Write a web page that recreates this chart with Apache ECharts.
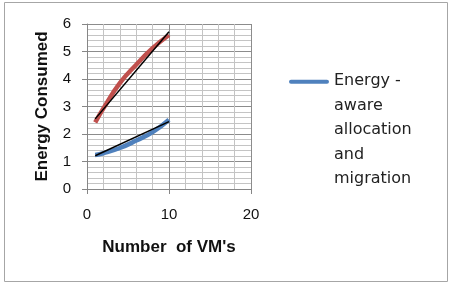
<!DOCTYPE html>
<html>
<head>
<meta charset="utf-8">
<script src="https://cdn.jsdelivr.net/npm/echarts@6/dist/echarts.min.js"></script>
<style>html,body{margin:0;padding:0;background:#fff}#c{width:453px;height:288px}</style>
</head>
<body>
<div id="c"></div>
<script>
// Data
const vmCounts = [1, 2, 4, 6, 8, 10];
const energyAware = [1.24, 1.3, 1.49, 1.76, 2.07, 2.52];
const otherPolicy = [2.42, 2.93, 3.85, 4.52, 5.12, 5.6];
const trendAwareX = [1, 10];
const trendAware = [1.21, 2.45];
const trendOtherX = [1, 10];
const trendOther = [2.55, 5.72];
const xTicks = [0, 10, 20];
const yTicks = [0, 1, 2, 3, 4, 5, 6];
const legendName = 'Energy -\naware\nallocation\nand\nmigration';

const zip = (xs, ys) => xs.map((x, i) => [x, ys[i]]);

const chart = echarts.init(document.getElementById('c'), null, {renderer: 'canvas'});
chart.setOption({
  animation: false,
  backgroundColor: '#fff',
  grid: {left: 87, right: 202, top: 24, bottom: 99, containLabel: false},
  legend: {
    data: [legendName],
    left: 289, top: 69, padding: 0,
    itemWidth: 40, itemHeight: 122,
    icon: 'path://M0,0H0.01V0.01H0Z M2,10.5H38A2,2 0 0 1 38,14.5H2A2,2 0 0 1 2,10.5Z M0,122H0.01V122.01H0Z',
    itemStyle: {color: '#4f81bd', borderWidth: 0},
    textStyle: {fontFamily: 'DejaVu Sans', fontSize: 16, color: '#222', lineHeight: 24.5},
    selectedMode: false
  },
  xAxis: {
    type: 'value', min: xTicks[0], max: xTicks[xTicks.length - 1], interval: 10,
    name: "Number  of VM's", nameLocation: 'middle', nameGap: 50,
    nameTextStyle: {fontFamily: 'Liberation Sans', fontWeight: 'bold', fontSize: 17, color: '#111'},
    axisLine: {show: true, lineStyle: {color: '#868686'}},
    axisTick: {show: true, length: 5, lineStyle: {color: '#868686'}},
    axisLabel: {fontFamily: 'Liberation Sans', fontSize: 15, color: '#111', margin: 18},
    splitLine: {show: true, lineStyle: {color: '#8c8c8c', width: 1}},
    minorTick: {show: false, splitNumber: 5},
    minorSplitLine: {show: true, lineStyle: {color: '#c4c4c4', width: 1}}
  },
  yAxis: {
    type: 'value', min: yTicks[0], max: yTicks[yTicks.length - 1], interval: 1,
    name: 'Energy Consumed', nameLocation: 'middle', nameGap: 36,
    nameTextStyle: {fontFamily: 'Liberation Sans', fontWeight: 'bold', fontSize: 17, color: '#111'},
    axisLine: {show: true, lineStyle: {color: '#868686'}},
    axisTick: {show: true, length: 5, lineStyle: {color: '#868686'}},
    axisLabel: {fontFamily: 'Liberation Sans', fontSize: 15, color: '#111', margin: 16},
    splitLine: {show: true, lineStyle: {color: '#8c8c8c', width: 1}},
    minorTick: {show: false, splitNumber: 5},
    minorSplitLine: {show: true, lineStyle: {color: '#c4c4c4', width: 1}}
  },
  graphic: [{
    type: 'rect', shape: {x: 4.5, y: 2.5, width: 443, height: 279},
    style: {fill: 'none', stroke: '#a6a6a6', lineWidth: 1}, silent: true, z: -1
  }],
  series: [
    {
      name: legendName, type: 'line', data: zip(vmCounts, energyAware), smooth: true,
      showSymbol: false, symbol: 'none',
      lineStyle: {color: '#4f81bd', width: 4.5}, itemStyle: {color: '#4f81bd'}, z: 2
    },
    {
      name: 'Series 2', type: 'line', data: zip(vmCounts, otherPolicy), smooth: true,
      showSymbol: false, symbol: 'none',
      lineStyle: {color: '#c0504d', width: 4.5}, itemStyle: {color: '#c0504d'}, z: 2
    },
    {
      name: 'Trend 1', type: 'line', data: zip(trendAwareX, trendAware),
      showSymbol: false, symbol: 'none',
      lineStyle: {color: '#000', width: 1.5}, z: 3
    },
    {
      name: 'Trend 2', type: 'line', data: zip(trendOtherX, trendOther),
      showSymbol: false, symbol: 'none',
      lineStyle: {color: '#000', width: 1.5}, z: 3
    }
  ]
});
</script>
</body>
</html>
